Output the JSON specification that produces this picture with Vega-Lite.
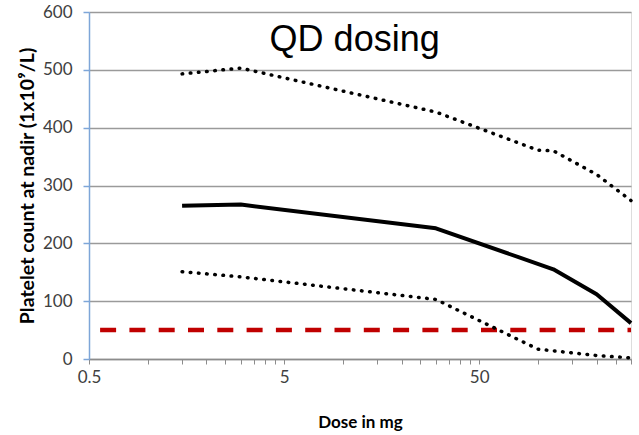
{
  "$schema": "https://vega.github.io/schema/vega-lite/v6.json",
  "width": 542,
  "height": 347,
  "autosize": {"type": "none"},
  "padding": {"left": 89, "top": 12, "right": 8, "bottom": 76},
  "background": "white",
  "data": {
    "values": [
      {"series": "median", "dose": 1.5, "value": 265},
      {"series": "median", "dose": 3, "value": 267},
      {"series": "median", "dose": 30, "value": 226},
      {"series": "median", "dose": 120, "value": 155},
      {"series": "median", "dose": 200, "value": 112},
      {"series": "median", "dose": 300, "value": 62},
      {"series": "upper", "dose": 1.5, "value": 493},
      {"series": "upper", "dose": 3, "value": 503},
      {"series": "upper", "dose": 30, "value": 427},
      {"series": "upper", "dose": 100, "value": 361},
      {"series": "upper", "dose": 120, "value": 360},
      {"series": "upper", "dose": 200, "value": 319},
      {"series": "upper", "dose": 300, "value": 274},
      {"series": "lower", "dose": 1.5, "value": 151},
      {"series": "lower", "dose": 3, "value": 142},
      {"series": "lower", "dose": 30, "value": 103},
      {"series": "lower", "dose": 100, "value": 17},
      {"series": "lower", "dose": 200, "value": 6},
      {"series": "lower", "dose": 300, "value": 2},
      {"series": "threshold", "dose": 0.57, "value": 50},
      {"series": "threshold", "dose": 300, "value": 50}
    ]
  },
  "layer": [
    {
      "transform": [{"filter": "datum.series == 'threshold'"}],
      "mark": {"type": "line", "color": "#c00000", "strokeWidth": 4.5, "strokeDash": [16, 13.3]},
      "encoding": {
        "x": {
          "field": "dose",
          "type": "quantitative",
          "scale": {"type": "log", "domain": [0.5, 300], "nice": false},
          "axis": {
            "values": [0.5, 1, 1.5, 2, 2.5, 3, 3.5, 4, 4.5, 5, 10, 15, 20, 25, 30, 35, 40, 45, 50, 100, 150, 200, 250, 300],
            "labelExpr": "datum.value == 0.5 ? '0.5' : (datum.value == 5 ? '5' : (datum.value == 50 ? '50' : ''))",
            "grid": false,
            "domainColor": "#8c8c8c",
            "domainWidth": 1.5,
            "tickColor": "#8c8c8c",
            "tickSize": 5,
            "tickWidth": 1,
            "labelFont": "Lato",
            "labelFontSize": 17,
            "labelColor": "#404040",
            "labelPadding": 5,
            "labelFlush": false,
            "labelOverlap": false,
            "title": "Dose in mg",
            "titleFont": "Lato",
            "titleFontSize": 17,
            "titleFontWeight": "bold",
            "titleColor": "#000000",
            "titlePadding": 29
          }
        },
        "y": {
          "field": "value",
          "type": "quantitative",
          "scale": {"domain": [0, 600], "nice": false},
          "axis": {
            "values": [0, 100, 200, 300, 400, 500, 600],
            "grid": true,
            "gridColor": "#9a9a9a",
            "gridWidth": 1.5,
            "domainColor": "#7ea6d8",
            "domainWidth": 1.5,
            "tickColor": "#7ea6d8",
            "tickSize": 6,
            "tickWidth": 1.5,
            "labelFont": "Lato",
            "labelFontSize": 17,
            "labelColor": "#404040",
            "labelPadding": 11,
            "title": "Platelet count at nadir (1x10⁹/L)",
            "titleFont": "Lato",
            "titleFontSize": 19.5,
            "titleFontWeight": "bold",
            "titleColor": "#000000",
            "titlePadding": 5
          }
        }
      }
    },
    {
      "transform": [{"filter": "datum.series == 'upper' || datum.series == 'lower'"}],
      "mark": {"type": "line", "color": "#000000", "strokeWidth": 3.5, "strokeCap": "round", "strokeDash": [0.6, 7.6]},
      "encoding": {
        "x": {"field": "dose", "type": "quantitative"},
        "y": {"field": "value", "type": "quantitative"},
        "detail": {"field": "series"}
      }
    },
    {
      "transform": [{"filter": "datum.series == 'median'"}],
      "mark": {"type": "line", "color": "#000000", "strokeWidth": 4, "strokeJoin": "round"},
      "encoding": {
        "x": {"field": "dose", "type": "quantitative"},
        "y": {"field": "value", "type": "quantitative"}
      }
    },
    {
      "transform": [{"filter": "datum.series == 'threshold' && datum.dose == 300"}],
      "mark": {"type": "text", "text": "QD dosing", "font": "Liberation Sans", "fontSize": 36, "align": "center", "baseline": "alphabetic", "fill": "#000000"},
      "encoding": {
        "x": {"datum": 11.5},
        "y": {"datum": 533}
      }
    }
  ]
}
